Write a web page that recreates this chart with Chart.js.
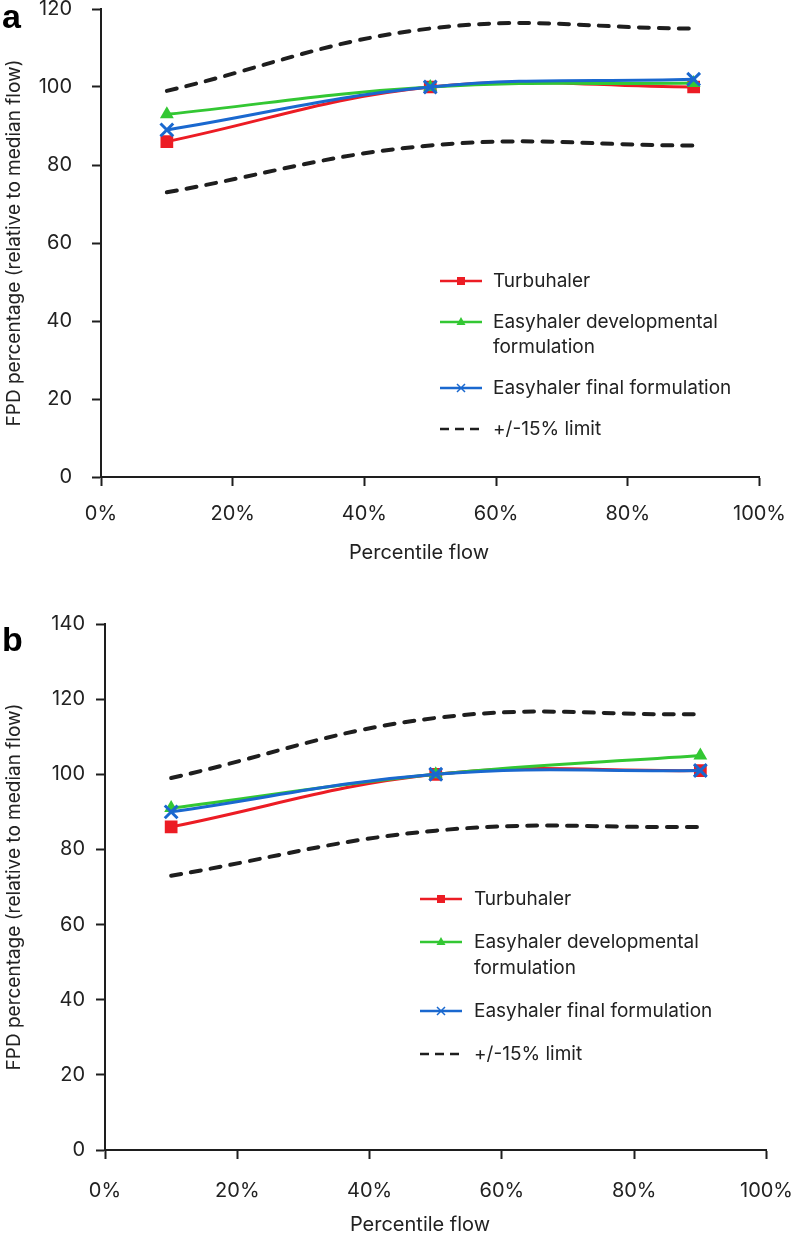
<!DOCTYPE html>
<html>
<head>
<meta charset="utf-8">
<script src="https://cdn.jsdelivr.net/npm/chart.js@4.4.0/dist/chart.umd.min.js"></script>
<style>
  body { margin: 0; background: #fff; overflow: hidden; }
  .panel { position: absolute; left: 0; }
  #panelA { top: -23px; width: 802px; height: 595px; }
  #panelB { top: 601px; width: 813px; height: 636px; }
  .tag { position: absolute; font: bold 34px "Liberation Sans", Arial, sans-serif; color: #000; }
</style>
</head>
<body>
<div class="panel" id="panelA"><canvas id="chartA"></canvas></div>
<div class="panel" id="panelB"><canvas id="chartB"></canvas></div>
<div class="tag" style="left:2px; top:-3px">a</div>
<div class="tag" style="left:2px; top:620px">b</div>
<script>
// x positions (percentile flow, %)
const percentiles = [10, 50, 90];

// panel a
const turbuhalerA = [86, 100, 100];
const devFormA = [93, 100, 101];
const finalFormA = [89, 100, 102];
const upperA = [99, 115, 115];
const lowerA = [73, 85, 85];

// panel b
const turbuhalerB = [86, 100, 101];
const devFormB = [91, 100, 105];
const finalFormB = [90, 100, 101];
const upperB = [99, 115, 116];
const lowerB = [73, 85, 86];

const RED = '#ec1c24';
const GREEN = '#33c733';
const BLUE = '#1a68cf';
const DARK = '#1e1e1e';
const FONT = 'Inter';

function pts(values) {
  return values.map((v, i) => ({ x: percentiles[i], y: v }));
}

// draws the legend inside the plot area, and the x axis title
const insideLegend = {
  id: 'insideLegend',
  afterDraw(chart, args, opts) {
    const ctx = chart.ctx;
    let y = opts.y;
    ctx.save();
    ctx.textBaseline = 'middle';

    ctx.font = '20px ' + FONT;
    ctx.fillStyle = '#222';
    ctx.textAlign = 'center';
    ctx.fillText('Percentile flow', opts.titleX, opts.titleY);
    ctx.textAlign = 'left';

    ctx.font = '19px ' + FONT;
    chart.data.datasets.forEach(ds => {
      if (!ds.label) return;
      const lines = [].concat(ds.label);
      const x0 = opts.x, x1 = opts.x + 42, xm = (x0 + x1) / 2;
      ctx.strokeStyle = ds.borderColor;
      ctx.fillStyle = ds.borderColor;
      ctx.lineWidth = 2.5;
      ctx.lineCap = 'butt';
      ctx.setLineDash(ds.borderDash ? [9, 6] : []);
      ctx.beginPath();
      ctx.moveTo(x0, y);
      ctx.lineTo(x1, y);
      ctx.stroke();
      ctx.setLineDash([]);
      if (ds.pointStyle === 'rect') {
        ctx.fillRect(xm - 4, y - 4, 8, 8);
      } else if (ds.pointStyle === 'triangle') {
        ctx.beginPath();
        ctx.moveTo(xm, y - 5);
        ctx.lineTo(xm + 4.5, y + 3);
        ctx.lineTo(xm - 4.5, y + 3);
        ctx.closePath();
        ctx.fill();
      } else if (ds.pointStyle === 'crossRot') {
        ctx.lineWidth = 1.5;
        ctx.beginPath();
        ctx.moveTo(xm - 4, y - 4); ctx.lineTo(xm + 4, y + 4);
        ctx.moveTo(xm + 4, y - 4); ctx.lineTo(xm - 4, y + 4);
        ctx.stroke();
      }
      ctx.fillStyle = '#222';
      lines.forEach((t, k) => ctx.fillText(t, opts.textX, y + k * opts.lineGap));
      y += opts.rowGap + (lines.length - 1) * opts.lineGap;
    });
    ctx.restore();
  }
};

function makeChart(id, series, cfg) {
  const [turb, dev, fin, up, low] = series;
  const common = { tension: 0.4, borderWidth: 3, fill: false };
  return new Chart(document.getElementById(id), {
    type: 'line',
    data: {
      datasets: [
        { ...common, label: 'Turbuhaler', data: pts(turb), borderColor: RED, backgroundColor: RED,
          pointStyle: 'rect', pointRadius: 9, pointBorderWidth: 0, pointBackgroundColor: RED, order: 3 },
        { ...common, label: ['Easyhaler developmental', 'formulation'], data: pts(dev), borderColor: GREEN, backgroundColor: GREEN,
          pointStyle: 'triangle', pointRadius: 8, pointBorderWidth: 0, pointBackgroundColor: GREEN, order: 2 },
        { ...common, label: 'Easyhaler final formulation', data: pts(fin), borderColor: BLUE, backgroundColor: BLUE,
          pointStyle: 'crossRot', pointRadius: 9, pointBorderWidth: 3, pointBorderColor: BLUE, order: 1 },
        { ...common, label: '+/-15% limit', data: pts(up), borderColor: DARK, borderWidth: 4,
          borderDash: [10, 10], borderCapStyle: 'round', pointRadius: 0, order: 4 },
        { ...common, label: '', data: pts(low), borderColor: DARK, borderWidth: 4,
          borderDash: [10, 10], borderCapStyle: 'round', pointRadius: 0, order: 4 }
      ]
    },
    options: {
      responsive: true,
      maintainAspectRatio: false,
      animation: false,
      layout: { padding: 0 },
      plugins: {
        legend: { display: false },
        tooltip: { enabled: false },
        insideLegend: cfg.legend
      },
      scales: {
        x: {
          type: 'linear',
          min: 0, max: 100,
          ticks: { stepSize: 20, callback: v => v + '%', color: '#222', font: { family: FONT, size: 20 }, padding: cfg.xTickPad, maxRotation: 0 },
          grid: { drawOnChartArea: false, drawTicks: true, tickLength: 9, tickWidth: 2, tickColor: DARK },
          border: { display: true, color: DARK, width: 2 },
          title: { display: false },
          afterFit(scale) { scale.height = cfg.xHeight; }
        },
        y: {
          min: 0, max: cfg.yMax,
          ticks: { stepSize: 20, color: '#222', font: { family: FONT, size: 20 }, padding: cfg.yTickPad },
          grid: { drawOnChartArea: false, drawTicks: true, tickLength: 9, tickWidth: 2, tickColor: DARK },
          border: { display: true, color: DARK, width: 2 },
          title: { display: true, text: 'FPD percentage (relative to median flow)', color: '#222', font: { family: FONT, size: 19 }, padding: { top: 3, bottom: 0 } },
          afterFit(scale) { scale.width = cfg.yWidth; }
        }
      }
    },
    plugins: [insideLegend]
  });
}

makeChart('chartA', [turbuhalerA, devFormA, finalFormA, upperA, lowerA], {
  yMax: 120, xHeight: 95, yWidth: 101, yTickPad: 20, xTickPad: 16,
  legend: { x: 440, textX: 493, y: 304, rowGap: 41, lineGap: 25, titleX: 419, titleY: 576 }
});

makeChart('chartB', [turbuhalerB, devFormB, finalFormB, upperB, lowerB], {
  yMax: 140, xHeight: 87, yWidth: 105, yTickPad: 11, xTickPad: 20,
  legend: { x: 420, textX: 474, y: 298, rowGap: 43, lineGap: 26, titleX: 420, titleY: 624 }
});
</script>
</body>
</html>
